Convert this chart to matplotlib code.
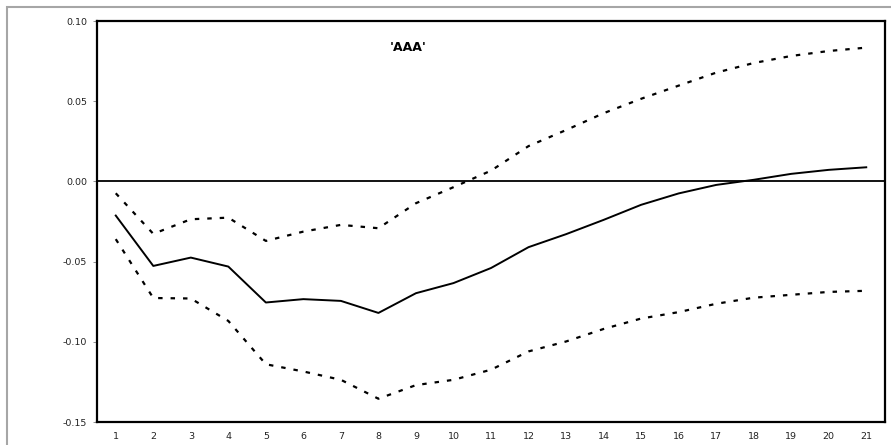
from matplotlib import pyplot as plt
from matplotlib.patches import Rectangle
import numpy as np

periods = list(range(1, 22))
response = [-0.0213, -0.0527, -0.0475, -0.0531, -0.0755, -0.0734, -0.0745, -0.0820,
            -0.0697, -0.0634, -0.0540, -0.0410, -0.0329, -0.0240, -0.0146, -0.0075,
            -0.0022, 0.0010, 0.0047, 0.0072, 0.0088]
upper = [-0.0074, -0.0327, -0.0236, -0.0226, -0.0371, -0.0313, -0.0271, -0.0292,
         -0.0136, -0.0036, 0.0067, 0.0220, 0.0320, 0.0425, 0.0515, 0.0597,
         0.0678, 0.0738, 0.0782, 0.0813, 0.0834]
lower = [-0.0360, -0.0727, -0.0730, -0.0870, -0.1140, -0.1185, -0.1237, -0.1355,
         -0.1270, -0.1237, -0.1174, -0.1060, -0.0998, -0.0920, -0.0855, -0.0815,
         -0.0763, -0.0725, -0.0707, -0.0689, -0.0682]
yticks = [0.10, 0.05, 0.00, -0.05, -0.10, -0.15]
title = "'AAA'"

fig = plt.figure(figsize=(8.91, 4.45), dpi=100)
# grey frame round the chart area (runs off the right and bottom edges)
fig.patches.append(Rectangle((7 / 891, -0.05), 1.0, 1.0 - 7 / 445 + 0.05,
                             transform=fig.transFigure, fill=False,
                             edgecolor='#a6a6a6', linewidth=1.5))

ax = fig.add_axes([97 / 891, 1 - 422 / 445, (885 - 97) / 891, (422 - 21) / 445])

x = np.array(periods)
ax.plot(x, response, color='black', linewidth=1.4)
ax.plot(x, upper, color='black', linewidth=1.6, dashes=(2, 3.6))
ax.plot(x, lower, color='black', linewidth=1.6, dashes=(2, 3.6))
ax.axhline(0, color='black', linewidth=1.3)

ax.set_xlim(0.5, 21.5)
ax.set_ylim(-0.15, 0.10)
ax.set_xticks(x)
ax.set_xticklabels([str(p) for p in periods])
ax.set_yticks(yticks)
ax.set_yticklabels([f'{v:.2f}' for v in yticks])
ax.tick_params(axis='x', length=0, labelsize=6.8, pad=7, labelcolor='#222222')
ax.tick_params(axis='y', length=3, width=0.6, color='#808080', labelsize=6.8, pad=4,
               labelcolor='#222222')

for s in ax.spines.values():
    s.set_linewidth(1.6)
    s.set_color('black')

ax.text(0.395, 0.935, title, transform=ax.transAxes, ha='center', va='center',
        fontsize=9, fontweight='bold')

fig.savefig('out.png', dpi=100)
